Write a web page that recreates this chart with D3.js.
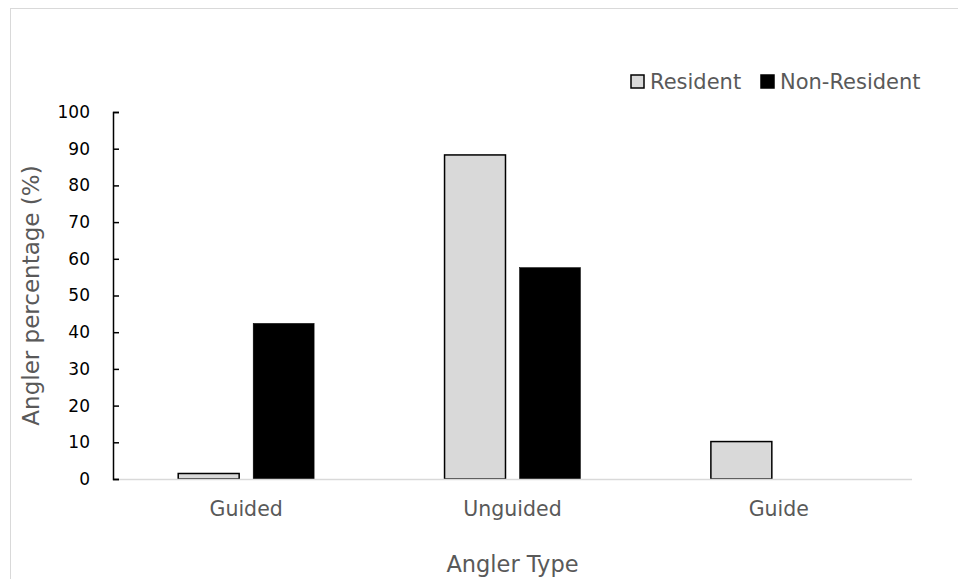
<!DOCTYPE html>
<html>
<head>
<meta charset="utf-8">
<script src="https://cdn.jsdelivr.net/npm/d3@7"></script>
<style>
  html, body { margin: 0; padding: 0; background: #fff; }
  svg { display: block; font-family: "DejaVu Sans", sans-serif; }
</style>
</head>
<body>
<svg id="chart" width="958" height="579"></svg>
<script>
// Angler shares by type, in percent
const categories = ["Guided", "Unguided", "Guide"];
const seriesNames = ["Resident", "Non-Resident"];
const resident = [1.5, 88.3, 10.2];
const nonResident = [42.4, 57.6, 0];
const yTicks = [0, 10, 20, 30, 40, 50, 60, 70, 80, 90, 100];

const fills = { "Resident": "#d9d9d9", "Non-Resident": "#000000" };
const FONT = "'DejaVu Sans', sans-serif";

const svg = d3.select("#chart");
const margin = { left: 113, right: 46, top: 112, bottom: 100 };
const W = 958, H = 579;

// outer frame
svg.append("rect")
  .attr("x", 10.5).attr("y", 8.5)
  .attr("width", 960).attr("height", 600)
  .attr("fill", "none").attr("stroke", "#d9d9d9").attr("stroke-width", 1);

const x0 = d3.scaleBand()
  .domain(categories)
  .range([margin.left, W - margin.right])
  .paddingInner(0).paddingOuter(0);

const x1 = d3.scaleBand()
  .domain(seriesNames)
  .range([0, x0.bandwidth()])
  .paddingInner(0.187).paddingOuter(0.87);

const y = d3.scaleLinear().domain([0, 100]).range([H - margin.bottom, margin.top]);

const rows = categories.map((c, i) => ({
  cat: c,
  values: [
    { name: "Resident", v: resident[i] },
    { name: "Non-Resident", v: nonResident[i] }
  ]
}));

// bars
const groups = svg.append("g").selectAll("g")
  .data(rows).join("g")
  .attr("transform", d => `translate(${x0(d.cat)},0)`);

groups.selectAll("rect")
  .data(d => d.values.filter(v => v.v > 0))
  .join("rect")
  .attr("x", d => x1(d.name))
  .attr("width", x1.bandwidth())
  .attr("y", d => y(d.v))
  .attr("height", d => y(0) - y(d.v))
  .attr("fill", d => fills[d.name])
  .attr("stroke", "#000")
  .attr("stroke-width", d => d.name === "Resident" ? 1.5 : 0.5);

// x baseline
svg.append("line")
  .attr("x1", margin.left).attr("x2", W - margin.right)
  .attr("y1", y(0) + 0.5).attr("y2", y(0) + 0.5)
  .attr("stroke", "#d9d9d9").attr("stroke-width", 1.5);

// y axis with inward ticks
const yAxis = d3.axisLeft(y).tickValues(yTicks).tickSize(-6).tickSizeOuter(-6).tickPadding(23);
const gy = svg.append("g")
  .attr("transform", `translate(${margin.left},0)`)
  .call(yAxis);
gy.select(".domain").attr("stroke", "#000").attr("stroke-width", 1.5);
gy.selectAll(".tick line").attr("stroke", "#000").attr("stroke-width", 1.5);
gy.selectAll(".tick text")
  .attr("font-size", 17).attr("fill", "#000")
  .attr("font-family", FONT);

// category labels
svg.append("g").selectAll("text")
  .data(categories).join("text")
  .attr("x", d => x0(d) + x0.bandwidth() / 2)
  .attr("y", 516)
  .attr("text-anchor", "middle")
  .attr("font-size", 20.5).attr("fill", "#595959")
  .text(d => d);

// axis titles
svg.append("text")
  .attr("x", x0.range()[0] + (x0.range()[1] - x0.range()[0]) / 2)
  .attr("y", 572)
  .attr("text-anchor", "middle")
  .attr("font-size", 22.5).attr("fill", "#595959")
  .text("Angler Type");

svg.append("text")
  .attr("transform", `translate(39,${y(50)}) rotate(-90)`)
  .attr("text-anchor", "middle")
  .attr("font-size", 23).attr("fill", "#595959")
  .text("Angler percentage (%)");

// legend
const legend = svg.append("g").attr("transform", "translate(631,75)");
const legendItems = [
  { name: "Resident", x: 0 },
  { name: "Non-Resident", x: 130 }
];
const li = legend.selectAll("g").data(legendItems).join("g")
  .attr("transform", d => `translate(${d.x},0)`);
li.append("rect")
  .attr("width", 13).attr("height", 13)
  .attr("fill", d => fills[d.name])
  .attr("stroke", "#000").attr("stroke-width", 1.5);
li.append("text")
  .attr("x", 19).attr("y", 14)
  .attr("font-size", 21).attr("fill", "#595959")
  .text(d => d.name);
</script>
</body>
</html>
